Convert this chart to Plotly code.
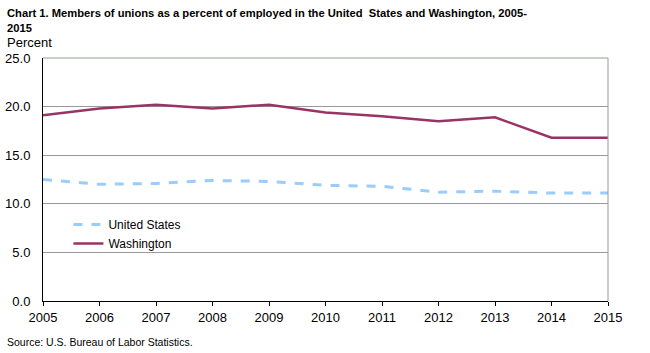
import plotly.graph_objects as go

years = [2005, 2006, 2007, 2008, 2009, 2010, 2011, 2012, 2013, 2014, 2015]
us = [12.5, 12.0, 12.1, 12.4, 12.3, 11.9, 11.8, 11.2, 11.3, 11.1, 11.1]
wa = [19.1, 19.8, 20.2, 19.8, 20.2, 19.4, 19.0, 18.5, 18.9, 16.8, 16.8]
yticks = [0, 5, 10, 15, 20, 25]
ytick_labels = ["0.0", "5.0", "10.0", "15.0", "20.0", "25.0"]

font = "Liberation Sans, Arial, sans-serif"

fig = go.Figure()
fig.add_trace(go.Scatter(x=years, y=us, mode="lines", name="United States",
                         line=dict(color="#99ccff", width=3, dash="dash")))
fig.add_trace(go.Scatter(x=years, y=wa, mode="lines", name="Washington",
                         line=dict(color="#993366", width=2.5)))

fig.update_layout(
    width=650, height=353,
    margin=dict(l=43, r=42, t=58, b=52),
    paper_bgcolor="white", plot_bgcolor="white",
    font=dict(family=font, size=12, color="#000"),
    showlegend=True,
    legend=dict(x=0.045, y=0.375, xanchor="left", yanchor="top",
                bgcolor="rgba(0,0,0,0)", font=dict(size=12), tracegroupgap=0,
                itemwidth=30),
    xaxis=dict(range=[2005, 2015], tickmode="array", tickvals=years,
               ticktext=[str(y) for y in years], automargin=False,
               showgrid=False, showline=True, linecolor="#000", linewidth=1,
               ticks="outside", ticklen=4, tickcolor="#000",
               tickfont=dict(size=13), zeroline=False, fixedrange=True),
    yaxis=dict(range=[0, 25], tickmode="array", tickvals=yticks,
               ticktext=ytick_labels, showgrid=True, gridcolor="#999999",
               gridwidth=1, showline=True, linecolor="#000", linewidth=1,
               ticks="", ticklabelstandoff=9, tickfont=dict(size=13),
               automargin=False, zeroline=False, fixedrange=True),
    shapes=[
        dict(type="line", xref="paper", yref="paper", x0=0, x1=1, y0=1, y1=1,
             line=dict(color="#8fa08f", width=1)),
        dict(type="line", xref="paper", yref="paper", x0=1, x1=1, y0=0, y1=1,
             line=dict(color="#8fa08f", width=1)),
    ],
    annotations=[
        dict(text="<b>Chart 1. Members of unions as a percent of employed in the United  States and Washington, 2005-<br>2015</b>",
             xref="paper", yref="paper", x=-38/565, y=1 + 53/243, xanchor="left", yanchor="top",
             align="left", showarrow=False, font=dict(size=11.2, family=font)),
        dict(text="Percent", xref="paper", yref="paper", x=-38/565, y=1 + 15/243,
             xanchor="left", yanchor="middle", showarrow=False, font=dict(size=13)),
        dict(text="Source: U.S. Bureau of Labor Statistics.", xref="paper", yref="paper",
             x=-38/565, y=-41/243, xanchor="left", yanchor="middle", showarrow=False,
             font=dict(size=10.5)),
    ],
)

fig.write_html("out.html")
